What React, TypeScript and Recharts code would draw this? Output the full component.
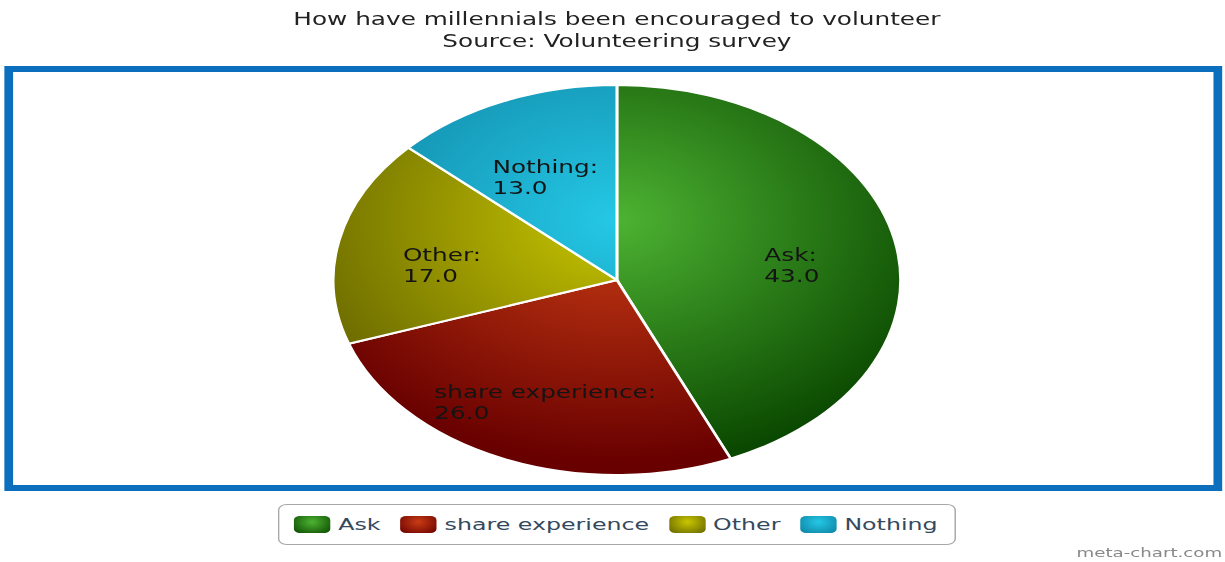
import { PieChart, Pie, Cell, Legend } from 'recharts';

// survey answers, clockwise from 12 o'clock
const names = ['Ask', 'share experience', 'Other', 'Nothing'];
const values = [43, 26, 17, 13];
const lightColors = ['#4db332', '#c93c14', '#c9c600', '#24c8e6'];
const darkColors = ['#0a4800', '#680000', '#646400', '#0f80a0'];

const titleLines = ['How have millennials been encouraged to volunteer', 'Source: Volunteering survey'];

const data = names.map((name, i) => ({ name, value: values[i] }));

// the reference is stretched horizontally, so draw narrow and scale x
const S = 1.455;
const W = 842;
const H = 562;
const CX = 424;
const CY = 280;
const R = 195;
const FONT = '"DejaVu Sans", Verdana, sans-serif';

let ctx: CanvasRenderingContext2D | null = null;
function measure(t: string, size: number) {
  if (!ctx) ctx = document.createElement('canvas').getContext('2d');
  if (!ctx) return t.length * size * 0.6;
  ctx.font = `${size}px "DejaVu Sans"`;
  return ctx.measureText(t).width;
}

function SliceLabel(props: any) {
  const { cx, cy, midAngle, outerRadius, name, value } = props;
  const a = (-midAngle * Math.PI) / 180;
  const x = cx + 0.63 * outerRadius * Math.cos(a);
  const y = cy + 0.63 * outerRadius * Math.sin(a);
  const l1 = `${name}:`;
  const l2 = Number(value).toFixed(1);
  const w = Math.max(measure(l1, 17), measure(l2, 17));
  const left = x - w / 2;
  return (
    <text x={left} y={y} fontSize={17} fontFamily={FONT} fill="#141414">
      <tspan x={left} dy="0.35em">{l1}</tspan>
      <tspan x={left} dy={21}>{l2}</tspan>
    </text>
  );
}

function LegendBox({ payload }: any) {
  const items = [...(payload || [])].sort(
    (a: any, b: any) => names.indexOf(a.value) - names.indexOf(b.value),
  );
  return (
    <div
      style={{
        boxSizing: 'border-box', height: 41, border: '1px solid #a8a8a8', borderRadius: 6,
        background: '#fff', display: 'flex', alignItems: 'center', paddingLeft: 10,
        fontFamily: FONT, fontSize: 16.3, color: '#34495e', whiteSpace: 'nowrap',
      }}
    >
      {items.map((p: any, i: number) => {
        const k = Math.max(0, names.indexOf(p.value));
        return (
          <div key={i} style={{ display: 'flex', alignItems: 'center', marginRight: 13.5, flexShrink: 0 }}>
            <span
              style={{
                display: 'inline-block', width: 25, height: 17, borderRadius: 4, marginRight: 5.5,
                background: `radial-gradient(ellipse at 50% 35%, ${lightColors[k]} 0%, ${darkColors[k]} 100%)`,
              }}
            />
            <span>{p.value}</span>
          </div>
        );
      })}
    </div>
  );
}

export default function App() {
  return (
    <div style={{ position: 'absolute', left: 0, top: 0, width: 1225, height: H, overflow: 'hidden', background: '#fff' }}>
      <div style={{ position: 'relative', width: W, height: H, transform: `scaleX(${S})`, transformOrigin: '0 0' }}>
        <div
          style={{
            position: 'absolute', left: 0, top: 8, width: 2 * CX, textAlign: 'center',
            fontFamily: FONT, fontSize: 17, lineHeight: '22px', color: '#222',
          }}
        >
          {titleLines.map((t) => <div key={t}>{t}</div>)}
        </div>
        <div
          style={{
            position: 'absolute', left: 3, top: 66, width: 837, height: 425,
            boxSizing: 'border-box', border: '6px solid #0b6fbe',
          }}
        />
        <div style={{ position: 'absolute', left: 0, top: 0 }}>
          <PieChart width={W} height={H} margin={{ top: 0, right: 0, bottom: 0, left: 0 }}>
            <defs>
              {names.map((n, i) => (
                <radialGradient key={n} id={`g${i}`} gradientUnits="userSpaceOnUse" cx={CX} cy={CY - 60} r={R * 1.25}>
                  <stop offset="0%" stopColor={lightColors[i]} />
                  <stop offset="100%" stopColor={darkColors[i]} />
                </radialGradient>
              ))}
            </defs>
            <Pie
              data={data} dataKey="value" nameKey="name"
              cx={CX} cy={CY} outerRadius={R}
              startAngle={90} endAngle={-270}
              stroke="#fff" strokeWidth={2}
              label={SliceLabel} labelLine={false}
              isAnimationActive={false}
            >
              {data.map((d, i) => <Cell key={d.name} fill={`url(#g${i})`} />)}
            </Pie>
            <Legend
              content={LegendBox}
              wrapperStyle={{ position: 'absolute', left: 191, top: 504, width: 466, height: 41 }}
            />
          </PieChart>
        </div>
        <div
          style={{
            position: 'absolute', left: 0, top: 545, width: 840, textAlign: 'right',
            fontFamily: FONT, fontSize: 12.5, lineHeight: '16px', color: '#888',
          }}
        >
          meta-chart.com
        </div>
      </div>
    </div>
  );
}
